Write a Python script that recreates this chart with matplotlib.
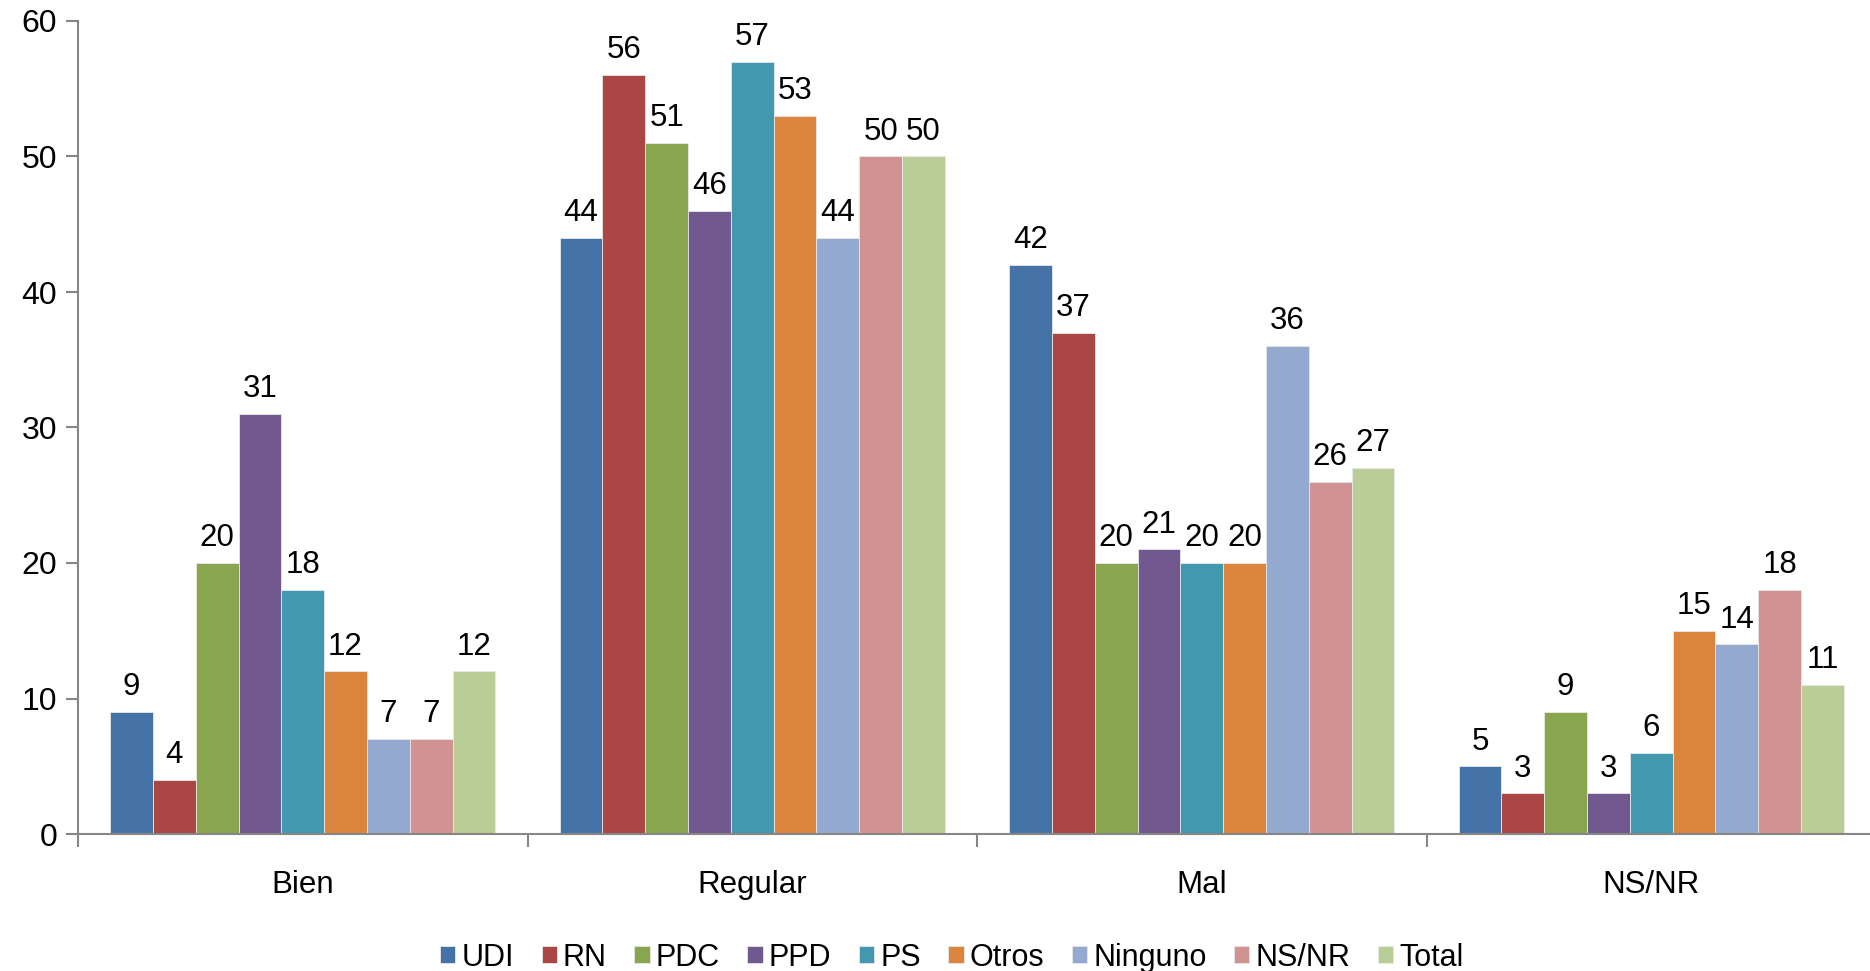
import numpy as np
import matplotlib.pyplot as plt

plt.rcParams['font.family'] = ['Liberation Sans', 'DejaVu Sans']

categories = ["Bien", "Regular", "Mal", "NS/NR"]
series = ["UDI", "RN", "PDC", "PPD", "PS", "Otros", "Ninguno", "NS/NR", "Total"]
values = {
    "UDI":     [9, 44, 42, 5],
    "RN":      [4, 56, 37, 3],
    "PDC":     [20, 51, 20, 9],
    "PPD":     [31, 46, 21, 3],
    "PS":      [18, 57, 20, 6],
    "Otros":   [12, 53, 20, 15],
    "Ninguno": [7, 44, 36, 14],
    "NS/NR":   [7, 50, 26, 18],
    "Total":   [12, 50, 27, 11],
}
colors = ["#4572A7", "#AA4643", "#89A54E", "#71588F", "#4198AF",
          "#DB843D", "#93A9CF", "#D19392", "#B9CD96"]

fig = plt.figure(figsize=(18.7, 9.71), dpi=100)
ax = fig.add_axes([78 / 1870, 137 / 971, 1798 / 1870, 813 / 971])

x = np.arange(len(categories))
n = len(series)
bw = 0.857 / n
for j, name in enumerate(series):
    pos = x - 0.857 / 2 + bw * (j + 0.5)
    bars = ax.bar(pos, values[name], width=bw, color=colors[j],
                  edgecolor="#e8e8e8", linewidth=0.6, label=name, zorder=2)
    for b, v in zip(bars, values[name]):
        ax.annotate(str(v), (b.get_x() + b.get_width() / 2, v),
                    xytext=(0, 7), textcoords="offset points",
                    ha="center", va="bottom", fontsize=22.5)

ax.set_xlim(-0.5, len(categories) - 0.5)
ax.set_ylim(0, 60)
ax.set_yticks(range(0, 61, 10))
ax.set_xticks(x)
ax.set_xticklabels(categories)
ax.set_xticks(np.arange(-0.5, len(categories), 1.0), minor=True)

axis_col = "#868686"
for s in ["top", "right"]:
    ax.spines[s].set_visible(False)
for s in ["left", "bottom"]:
    ax.spines[s].set_color(axis_col)
    ax.spines[s].set_linewidth(1.5)

ax.tick_params(axis="y", length=9, width=1.5, color=axis_col, labelsize=23, pad=6)
ax.tick_params(axis="x", which="major", length=0, labelsize=22.5, pad=26)
ax.tick_params(axis="x", which="minor", length=9, width=1.5, color=axis_col)

fig.legend(loc="lower center", bbox_to_anchor=(0.509, -0.03), ncol=n,
           frameon=False, fontsize=22, handlelength=0.5, handleheight=0.5,
           handletextpad=0.2, columnspacing=0.9)

fig.savefig("out.png", dpi=100)
